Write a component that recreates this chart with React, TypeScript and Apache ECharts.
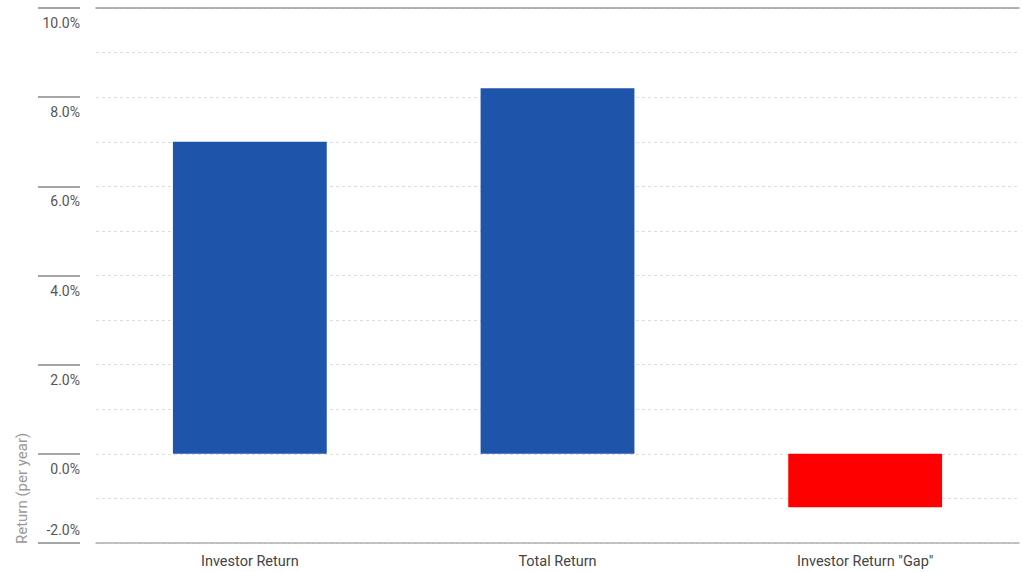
import React, { useEffect, useRef } from "react";
import * as echarts from "echarts";

const categories = ["Investor Return", "Total Return", 'Investor Return "Gap"'];
const returns = [7.0, 8.2, -1.2];
const barColors = ["#1F54AB", "#1F54AB", "#FF0000"];
const yAxisName = "Return (per year)";

export default function App() {
  const ref = useRef<HTMLDivElement>(null);
  useEffect(() => {
    if (!ref.current) return;
    const chart = echarts.init(ref.current, undefined, { renderer: "svg" });
    const font = "Roboto, 'Liberation Sans', sans-serif";
    const fmt = (v: number) => v.toFixed(1) + "%";
    chart.setOption({
      animation: false,
      grid: { left: 96, right: 4, top: 8, bottom: 29, containLabel: false },
      xAxis: [
        {
          type: "category",
          data: categories,
          position: "bottom",
          axisLine: { show: true, onZero: false, lineStyle: { color: "#b0b0b0", width: 1.5 } },
          axisTick: { show: false },
          axisLabel: { color: "#444", fontSize: 14.5, fontFamily: font, margin: 11 },
        },
        {
          type: "category",
          data: categories,
          position: "top",
          axisLine: { show: true, onZero: false, lineStyle: { color: "#999", width: 1.5 } },
          axisTick: { show: false },
          axisLabel: { show: false },
        },
      ],
      yAxis: [
        {
          type: "value",
          min: -2,
          max: 10,
          interval: 1,
          axisLine: { show: false },
          axisTick: { show: false },
          axisLabel: { show: false },
          splitLine: { show: true, lineStyle: { color: "#dcdcdc", type: [3, 3], width: 1 } },
        },
        {
          type: "value",
          min: -2,
          max: 10,
          interval: 2,
          position: "left",
          offset: 16,
          axisLine: { show: false },
          axisTick: { show: true, length: 42, lineStyle: { color: "#888", width: 1.5 } },
          splitLine: { show: false },
          axisLabel: {
            color: "#555",
            fontSize: 14,
            fontFamily: font,
            margin: 0,
            verticalAlign: "top",
            padding: [8, 0, 0, 0],
            formatter: (v: number) => (v < 0 ? "" : fmt(v)),
          },
        },
        {
          type: "value",
          min: -2,
          max: 10,
          interval: 12,
          position: "left",
          offset: 16,
          axisLine: { show: false },
          axisTick: { show: false },
          splitLine: { show: false },
          axisLabel: {
            color: "#555",
            fontSize: 14,
            fontFamily: font,
            margin: 0,
            verticalAlign: "bottom",
            padding: [0, 0, 6, 0],
            formatter: (v: number) => (v < 0 ? fmt(v) : ""),
          },
        },
      ],
      graphic: [
        {
          type: "text",
          x: 22,
          y: 544,
          rotation: Math.PI / 2,
          style: {
            text: yAxisName,
            fill: "#999",
            font: `15px ${font}`,
            align: "left",
            verticalAlign: "middle",
          },
        },
      ],
      series: [
        {
          type: "bar",
          xAxisIndex: 0,
          yAxisIndex: 0,
          barWidth: "50%",
          data: returns.map((v, i) => ({ value: v, itemStyle: { color: barColors[i] } })),
        },
      ],
    });
    return () => chart.dispose();
  }, []);
  return <div ref={ref} style={{ width: 1023, height: 572, position: "absolute", left: 0, top: 0 }} />;
}
